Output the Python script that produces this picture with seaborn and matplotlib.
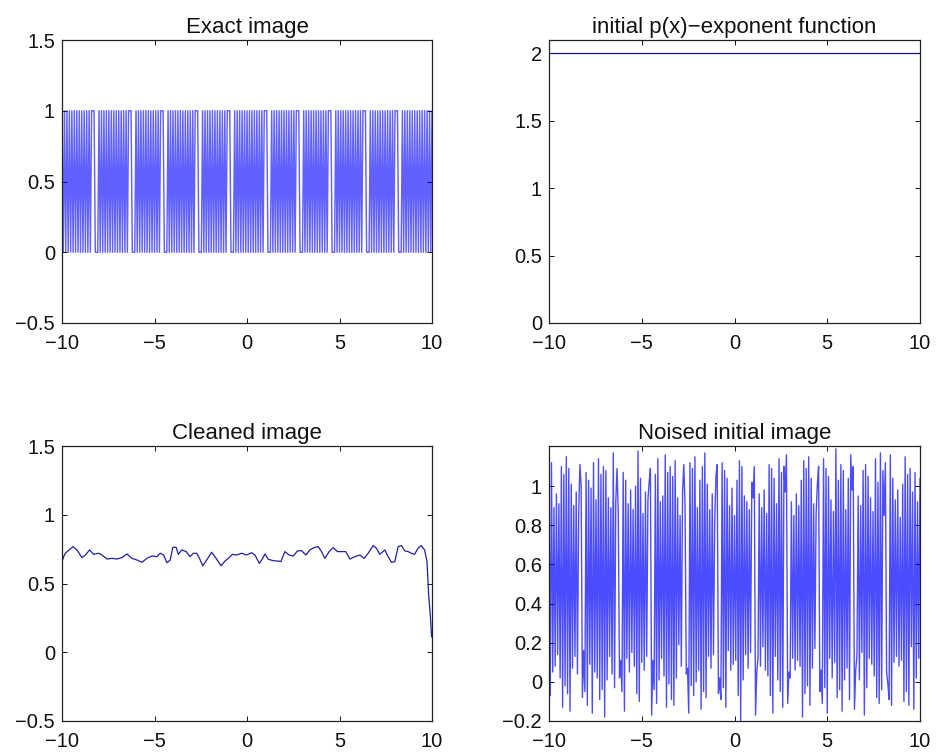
import numpy as np
import pandas as pd
import matplotlib
matplotlib.use("Agg")
import matplotlib.pyplot as plt
import seaborn as sns

# ---------------- data ----------------
# Exact image: sampled 0/1 signal (301 samples on [-10, 10])
exact_bits = ("101010101010101010101010" "111000"
              "101010101010101010101010" "111000"
              "10101010101010101010" "111000"
              "1010101010101010101010" "111000"
              "10101010101010101010" "111000"
              "101010101010101010101010" "111000"
              "10101010101010101010" "111000"
              "10101010101010101010" "111000"
              "1010101010101010101010" "111000"
              "10101010101010101010" "111000"
              "1010101010101010101010101")
exact_vals = [float(c) for c in exact_bits]

# Noise (hundredths)
noise_pct = [3, -7, 12, 5, -11, 8, -4, 14, -9, 2, 10, -13, 6, -2, 15, -6, 9, -15, 1, 7,
             -10, 13, -3, 4, -14, 11, 0, -8, 16, -5, 7, -12, 3, 9, -1, -16, 12, 5, -7, 2,
             14, -9, 6, -4, 10, -18, 8, 1, -6, 13, -11, 4, 17, -3, -8, 9, -13, 2, 11, -5,
             7, -15, 3, 12, -9, 5, -2, 15, -12, 8, 0, -6, 18, -10, 4, 10, -14, 6, -3, 13,
             -7, 2, 9, -17, 11, -4, 6, -11, 14, 1, -8, 12, -5, 3, 16, -13, 7, -1, 10, -9,
             5, -12, 13, 2, -6, 19, -15, 8, -3, 11, -10, 4, 7, -16, 12, -2, 9, -7, 15, 0,
             -11, 6, 3, -14, 10, -5, 17, -8, 1, 13, -12, 7, -4, 14, -18, 5, 11, -6, 2, -9,
             12, -3, 8, -13, 4, 16, -10, 6, -1, 9, -15, 11, 3, -7, 13, -20, 10, 1, -5, 14,
             -8, 7, -12, 15, 2, -6, 10, -17, 5, 12, -4, 8, -11, 18, -2, 6, -14, 3, 11, -7,
             9, -16, 4, 13, -9, 1, 14, -5, 7, -13, 10, -3, 16, -11, 5, 2, -8, 12, -15, 6,
             -4, 11, -10, 8, 3, -18, 13, -6, 9, -2, 15, -12, 4, 7, -9, 17, -14, 1, 10, -5,
             6, -11, 14, -3, 9, -16, 5, 12, -7, 2, -13, 10, 19, -8, 3, -4, 11, -15, 8, 1,
             -12, 7, 4, -9, 16, -2, 10, -14, 6, 13, -5, 1, -10, 15, 8, -17, 11, -3, 5, 12,
             -6, 9, -13, 3, 14, -8, 2, -11, 17, -4, 8, -15, 12, 5, -1, -9, 16, -12, 4, 10,
             -7, 13, -2, 8, -16, 11, 1, -10, 15, -5, 6, -12, 9, 18, -3, -14, 7, 2, -8, 12,
             4]

# Initial p(x) exponent function
p_x = [-10.0, 10.0]
p_y = [2.0, 2.0]

# Cleaned image
clean_x = [-10.00, -9.91, -9.82, -9.41, -9.19, -8.92, -8.74, -8.51, -8.29, -8.02,
           -7.84, -7.57, -7.30, -7.03, -6.76, -6.49, -6.22, -5.95, -5.68, -5.41,
           -5.14, -4.87, -4.69, -4.51, -4.33, -4.15, -4.01, -3.83, -3.71, -3.53,
           -3.29, -3.08, -2.90, -2.72, -2.57, -2.39, -2.18, -1.91, -1.67, -1.40,
           -1.19, -1.01, -0.79, -0.56, -0.29, -0.02, 0.25, 0.43, 0.67, 0.85,
           0.97, 1.15, 1.42, 1.69, 1.83, 2.05, 2.28, 2.50, 2.73, 2.95,
           3.18, 3.40, 3.62, 3.85, 4.03, 4.21, 4.44, 4.66, 4.89, 5.11,
           5.34, 5.56, 5.83, 6.10, 6.33, 6.55, 6.82, 7.00, 7.18, 7.45,
           7.63, 7.81, 7.99, 8.17, 8.35, 8.53, 8.71, 8.88, 9.06, 9.24,
           9.42, 9.60, 9.73, 9.82, 9.91, 9.98]
clean_y = [0.659, 0.695, 0.720, 0.768, 0.744, 0.688, 0.707, 0.744, 0.712, 0.720,
           0.707, 0.678, 0.683, 0.678, 0.688, 0.715, 0.683, 0.671, 0.654, 0.683,
           0.700, 0.695, 0.720, 0.707, 0.651, 0.671, 0.763, 0.763, 0.712, 0.744,
           0.732, 0.695, 0.720, 0.720, 0.683, 0.629, 0.671, 0.727, 0.683, 0.629,
           0.663, 0.683, 0.712, 0.707, 0.720, 0.707, 0.724, 0.707, 0.646, 0.683,
           0.715, 0.676, 0.666, 0.663, 0.659, 0.732, 0.707, 0.700, 0.737, 0.739,
           0.707, 0.744, 0.761, 0.768, 0.732, 0.683, 0.732, 0.761, 0.732, 0.732,
           0.732, 0.678, 0.695, 0.707, 0.683, 0.720, 0.776, 0.756, 0.712, 0.744,
           0.695, 0.654, 0.659, 0.768, 0.776, 0.737, 0.732, 0.720, 0.712, 0.756,
           0.776, 0.744, 0.659, 0.415, 0.268, 0.110]

titles = ["Exact image", "initial p(x)\u2212exponent function",
          "Cleaned image", "Noised initial image"]
x_ticks = [-10, -5, 0, 5, 10]
x_ticklabels = ["\u221210", "\u22125", "0", "5", "10"]
y_ticks_a = [-0.5, 0, 0.5, 1, 1.5]
y_ticklabels_a = ["\u22120.5", "0", "0.5", "1", "1.5"]
y_ticks_p = [0, 0.5, 1, 1.5, 2]
y_ticklabels_p = ["0", "0.5", "1", "1.5", "2"]
y_ticks_n = [-0.2, 0, 0.2, 0.4, 0.6, 0.8, 1]
y_ticklabels_n = ["\u22120.2", "0", "0.2", "0.4", "0.6", "0.8", "1"]

# ---------------- build frames ----------------
grid = np.linspace(-10, 10, len(exact_vals))
df_exact = pd.DataFrame({"x": grid, "y": exact_vals})
df_noise = pd.DataFrame({"x": grid,
                         "y": np.array(exact_vals) + np.array(noise_pct) / 100.0})
df_p = pd.DataFrame({"x": p_x, "y": p_y})
df_clean = pd.DataFrame({"x": clean_x, "y": clean_y})

# ---------------- style ----------------
sns.set_theme(style="ticks")
plt.rcParams["font.family"] = ["Liberation Sans", "DejaVu Sans"]
plt.rcParams["axes.linewidth"] = 0.9

fig = plt.figure(figsize=(9.38, 7.55), dpi=100)
W, H = 938, 755


def make_ax(l, t, r, b):
    return fig.add_axes([l / W, 1 - b / H, (r - l) / W, (b - t) / H])


ax1 = make_ax(62, 40, 432, 323)
ax2 = make_ax(549, 40, 920, 323)
ax3 = make_ax(62, 446, 432, 721)
ax4 = make_ax(549, 446, 920, 721)

blue = "#0000ff"
sns.lineplot(data=df_exact, x="x", y="y", ax=ax1, color=blue, lw=1.05,
             alpha=0.62, estimator=None, sort=False)
sns.lineplot(data=df_p, x="x", y="y", ax=ax2, color="#10108c", lw=0.9,
             estimator=None, sort=False)
sns.lineplot(data=df_clean, x="x", y="y", ax=ax3, color="#2020a0", lw=0.9,
             estimator=None, sort=False)
sns.lineplot(data=df_noise, x="x", y="y", ax=ax4, color=blue, lw=1.0,
             alpha=0.7, estimator=None, sort=False)

ax1.set_ylim(-0.5, 1.5)
ax2.set_ylim(0, 2.1)
ax3.set_ylim(-0.5, 1.5)
ax4.set_ylim(-0.2, 1.205)

yt = [(y_ticks_a, y_ticklabels_a), (y_ticks_p, y_ticklabels_p),
      (y_ticks_a, y_ticklabels_a), (y_ticks_n, y_ticklabels_n)]

for ax, title, (yts, ytl) in zip([ax1, ax2, ax3, ax4], titles, yt):
    ax.set_xlim(-10, 10)
    ax.set_xticks(x_ticks)
    ax.set_xticklabels(x_ticklabels)
    ax.set_yticks(yts)
    ax.set_yticklabels(ytl)
    ax.set_xlabel("")
    ax.set_ylabel("")
    ax.set_title(title, fontsize=16, color="#111111", pad=5)
    ax.tick_params(direction="in", length=3.5, width=0.7, top=True, right=True,
                   labelsize=14.5, colors="#111111")
    ax.tick_params(axis="x", pad=8)
    ax.tick_params(axis="y", pad=5)
    for s in ax.spines.values():
        s.set_visible(True)
        s.set_color("#222222")
    ax.set_facecolor("white")

fig.savefig("out.png", dpi=100, facecolor="white")
